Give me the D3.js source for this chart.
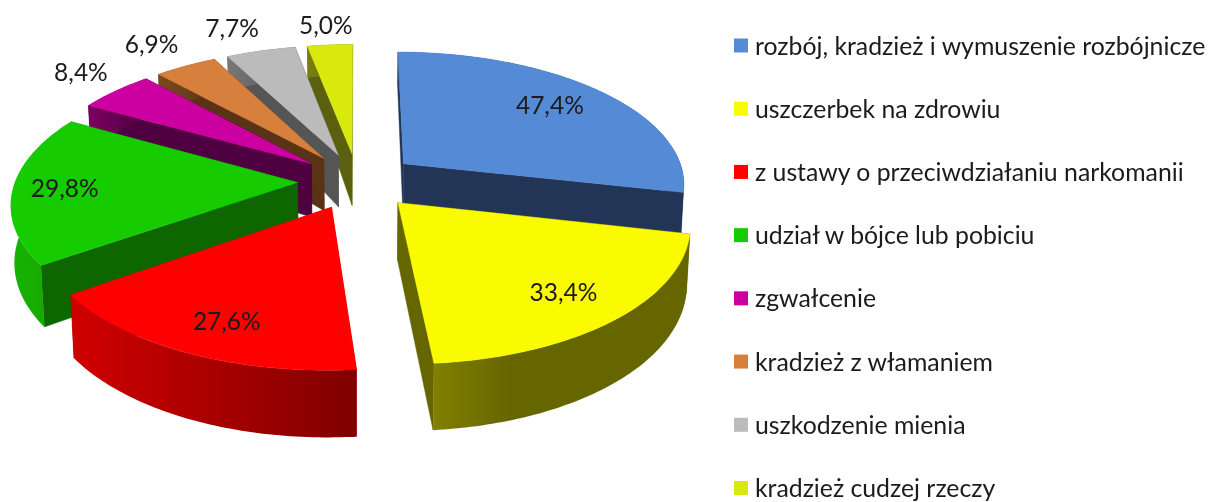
<!DOCTYPE html>
<html><head><meta charset="utf-8">
<script src="https://cdnjs.cloudflare.com/ajax/libs/d3/7.8.5/d3.min.js"></script>
<style>html,body{margin:0;padding:0;background:#fff}svg{display:block}</style>
</head><body><svg id="c" width="1208" height="502"></svg>
<script>
const categories = ["rozbój, kradzież i wymuszenie rozbójnicze","uszczerbek na zdrowiu","z ustawy o przeciwdziałaniu narkomanii","udział w bójce lub pobiciu","zgwałcenie","kradzież z włamaniem","uszkodzenie mienia","kradzież cudzej rzeczy"];
const values = [47.4,33.4,27.6,29.8,8.4,6.9,7.7,5.0];
const labels = ["47,4%","33,4%","27,6%","29,8%","8,4%","6,9%","7,7%","5,0%"];
const topColors = ["#548bd6","#fbfb00","#ff0000","#18cc00","#cc00a0","#d77f3d","#bbbbbb","#d9e811"];
const wallColors = ["#203556","#666600","#aa0000","#0e6606","#4f0040","#5a3317","#555555","#5a6008"];
const rimStart = ["#2c4a78","#808000","#d00000","#14b400","#7a0060","#7a4a20","#777777","#7a8010"];
const rimEnd = ["#203556","#666600","#800000","#10a000","#4f0040","#5a3317","#555555","#5a6008"];
const labelRadius = [0.76,0.78,0.79,0.82,1.24,1.28,1.28,1.22];
const labelTurn = [-2,0,-1.5,0.5,2,0,-2,0];
const paintOrder = [7,6,5,4,0,3,2,1];

const cx=357.5, cy=181, R=282, explode=60, d=2000, k=0.468, depthShift=20;
const svg=d3.select("#c");
const defs=svg.append("defs");
const soft=defs.append("filter").attr("id","soft").attr("x","-5%").attr("y","-20%").attr("width","110%").attr("height","140%");
soft.append("feGaussianBlur").attr("stdDeviation",0.4);
const pie=d3.pie().sort(null).value(v=>v);
const arcs=pie(values);
const heightAt=d3.scaleLinear().domain([-333,0,345]).range([67,56,31]);

function ground(i,a,r){
  const m=(arcs[i].startAngle+arcs[i].endAngle)/2;
  return [explode*Math.sin(m)+r*Math.sin(a), explode*Math.cos(m)+r*Math.cos(a)];
}
function proj(g,bottom){
  const [X,Y]=g;
  const s=d/(d+Y+(bottom?depthShift:0));
  const sTop=d/(d+Y);
  return [cx+X*s, cy-Y*k*sTop+(bottom?heightAt(Y):0)];
}
const line=d3.line();
const sample=(a0,a1)=>{const n=Math.max(4,Math.ceil((a1-a0)*60));return d3.range(n+1).map(j=>a0+(a1-a0)*j/n);};

const pieG=svg.append("g").attr("filter","url(#soft)");
paintOrder.forEach(i=>{
  const a=arcs[i], as=sample(a.startAngle,a.endAngle);
  const apex=ground(i,0,0), gS=ground(i,a.startAngle,R), gE=ground(i,a.endAngle,R);
  [[apex,gS],[apex,gE]].forEach(([p,q])=>{
    pieG.append("path").attr("fill",wallColors[i]).attr("stroke",wallColors[i]).attr("stroke-width",.4)
      .attr("d",line([proj(p),proj(q),proj(q,true),proj(p,true)])+"Z");
  });
  const tops=as.map(t=>proj(ground(i,t,R)));
  const bots=as.map(t=>proj(ground(i,t,R),true));
  const xs=tops.concat(bots).map(p=>p[0]);
  const [x0,x1]=i===1?[433,510]:d3.extent(xs);
  const id="rim"+i;
  const grad=defs.append("linearGradient").attr("id",id).attr("gradientUnits","userSpaceOnUse")
    .attr("x1",x0).attr("x2",x1).attr("y1",0).attr("y2",0);
  grad.append("stop").attr("offset",0).attr("stop-color",rimStart[i]);
  grad.append("stop").attr("offset",1).attr("stop-color",rimEnd[i]);
  pieG.append("path").attr("fill",`url(#${id})`).attr("d",line(tops.concat(bots.slice().reverse()))+"Z");
  pieG.append("path").attr("fill",topColors[i]).attr("stroke",topColors[i]).attr("stroke-width",.4)
    .attr("d",line([proj(apex)].concat(tops))+"Z");
});

const textColor="#1a1a1a", fontFam="Lato, 'Open Sans', sans-serif";
const textG=svg.append("g").attr("filter","url(#soft)");
arcs.forEach((a,i)=>{
  const m=(a.startAngle+a.endAngle)/2;
  const dir=m+labelTurn[i]*Math.PI/180;
  const g=[explode*Math.sin(m)+R*labelRadius[i]*Math.sin(dir), explode*Math.cos(m)+R*labelRadius[i]*Math.cos(dir)];
  const p=proj(g);
  textG.append("text").attr("x",p[0]).attr("y",p[1]).attr("text-anchor","middle").attr("dominant-baseline","central")
    .attr("font-family",fontFam).attr("font-size",24.5).attr("fill",textColor).text(labels[i]);
});

const rowY=d3.scalePoint().domain(d3.range(categories.length)).range([45,487.5]);
categories.forEach((c,i)=>{
  textG.append("rect").attr("x",734).attr("y",rowY(i)-6.5).attr("width",14).attr("height",14).attr("fill",topColors[i]);
  textG.append("text").attr("x",755).attr("y",rowY(i)).attr("dominant-baseline","central")
    .attr("font-family",fontFam).attr("font-size",24.8).attr("fill",textColor).text(c);
});
</script></body></html>
